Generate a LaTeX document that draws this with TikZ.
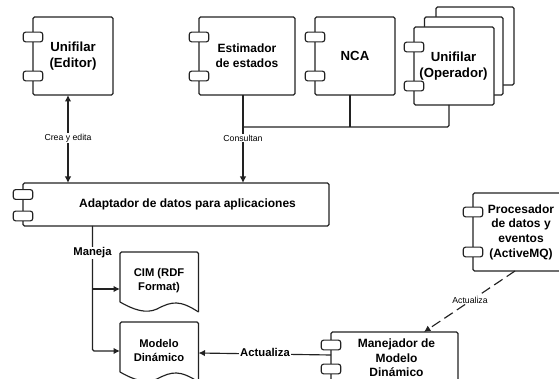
\documentclass[tikz,border=0pt]{standalone}
\usepackage{fontspec}
\setmainfont{Liberation Sans}
\usetikzlibrary{arrows.meta,positioning}
\definecolor{ink}{HTML}{222222}
\tikzset{
  x=1pt,y=-1pt,
  line/.style={draw=ink,line width=1.15pt},
  comp/.style={line,fill=white,rounded corners=1.5pt,inner sep=0pt,outer sep=0pt,align=center,font=\bfseries\fontsize{12}{14.6}\selectfont,text=black},
  big/.style={font=\bfseries\fontsize{13.2}{16}\selectfont},
  tabbox/.style={line,fill=white,rounded corners=2.5pt,minimum width=19.5pt,minimum height=9.8pt,inner sep=0pt,outer sep=0pt},
  doclabel/.style={inner sep=0pt,align=center,font=\bfseries\fontsize{11.2}{14}\selectfont,text=black},
  small/.style={fill=white,inner sep=1pt,font=\fontsize{8.7}{10}\selectfont,text=black},
  strong/.style={fill=white,inner sep=1pt,font=\bfseries\fontsize{11.3}{13}\selectfont,text=black},
  conn/.style={line},
  arr/.style={line,-{Latex[length=6.5pt,width=6.5pt]}},
  arrb/.style={line,{Latex[length=6.5pt,width=6.5pt]}-{Latex[length=6.5pt,width=6.5pt]}},
  dasharr/.style={arr,dash pattern=on 10pt off 5pt},
}
\newcommand{\boxat}[7][]{% opts name x1 y1 x2 y2 text
  \node[comp,#1,minimum width=#5pt-#3pt,minimum height=#6pt-#4pt,anchor=north west] (#2) at (#3,#4) {#7};}
\begin{document}
\begin{tikzpicture}
\useasboundingbox (0,0) rectangle (559,379);
\clip (0,0) rectangle (559,379);
% Unifilar (Editor)
\boxat{ed}{33}{17}{113}{95}{}
\node[comp,big,draw=none,fill=none] (edtx) at (73,56) {Unifilar\\(Editor)};
\node[tabbox] (edta) at (33,37) {};
\node[tabbox] (edtb) at (33,76) {};
% Estimador
\boxat{es}{199}{17}{295}{95}{Estimador\\de estados}
\node[tabbox] (esta) at (199,37) {};
\node[tabbox] (estb) at (199,76) {};
% NCA
\boxat[big]{nca}{315}{17}{395}{95}{NCA}
\node[tabbox] (ncata) at (315,37) {};
\node[tabbox] (ncatb) at (315,76) {};
% Unifilar (Operador) stack
\boxat{opc}{436}{7}{514}{85}{}
\boxat{opb}{424.5}{17}{503}{95}{}
\boxat{op}{414}{27}{494}{105}{}
\node[tabbox] (opta) at (414,47) {};
\node[tabbox] (optb) at (414,86) {};
\node[comp,big,draw=none,fill=none] (optx) at (453.5,66.5) {Unifilar\\(Operador)};
% Adaptador
\boxat{ad}{23}{183}{329}{226}{}
\node[comp,draw=none,fill=none] (adtx) at (187.5,204.5) {Adaptador de datos para aplicaciones};
\node[tabbox] (adta) at (23,194.5) {};
\node[tabbox] (adtb) at (23,216) {};
% Procesador
\boxat{pr}{473}{193}{569}{271}{Procesador\\de datos y\\eventos\\(ActiveMQ)}
\node[tabbox] (prta) at (473,212) {};
\node[tabbox] (prtb) at (473,252) {};
% Manejador
\boxat{ma}{331}{332}{458}{410}{}
\node[comp,draw=none,fill=none,anchor=north] (matx) at (396.5,339) {Manejador de\\Modelo\\Dinámico};
\node[tabbox] (mata) at (331,345) {};
\node[tabbox] (matb) at (331,369) {};
% Documents
\draw[line,fill=white,rounded corners=1.5pt] (120,302) -- (120,252) -- (198.5,252) -- (198.5,312);
\draw[line,fill=white] (120,302) .. controls (134,310) and (146,314) .. (157,309) .. controls (172,301) and (180,300) .. (198.5,312);
\node[doclabel] (cim) at (159,280.5) {CIM (RDF\\Format)};
\draw[line,fill=white,rounded corners=1.5pt] (120,372) -- (120,322) -- (198.5,322) -- (198.5,382);
\draw[line,fill=white] (120,372) .. controls (134,380) and (146,384) .. (157,379) .. controls (172,371) and (180,370) .. (198.5,382);
\node[doclabel] (mod) at (159,350) {Modelo\\Dinámico};
\coordinate (modr) at (198.5,353);
\coordinate (modl) at (120,351);
\coordinate (ciml) at (120,289);
% Connectors
\draw[arrb] (ed.south -| 68,0) -- (ad.north -| 68,0);
\node[small] (l1) at (68,138) {Crea y edita};
\draw[arr] (es.south -| 243,0) -- (ad.north -| 243,0);
\node[small] (l2) at (243,138) {Consultan};
\coordinate (bus) at (243,127);
\draw[conn,rounded corners=1.5pt] (bus) -- (449,127) -- (op.south -| 449,0);
\draw[conn] (nca.south -| 350,0) -- (350,127);
\draw[arr,rounded corners=1.5pt] (ad.south -| 92.5,0) -- (92.5,351) -- (modl);
\draw[arr] (92.5,289) -- (ciml);
\node[strong] (l3) at (92.5,253) {Maneja};
\draw[arr] (ma.west |- 0,355) -- (modr);
\node[strong] (l4) at (265,352) {Actualiza};
\draw[dasharr] (pr.south -| 515,0) -- (ma.north -| 424,0);
\node[small] (l5) at (470,300) {Actualiza};
\end{tikzpicture}
\end{document}
